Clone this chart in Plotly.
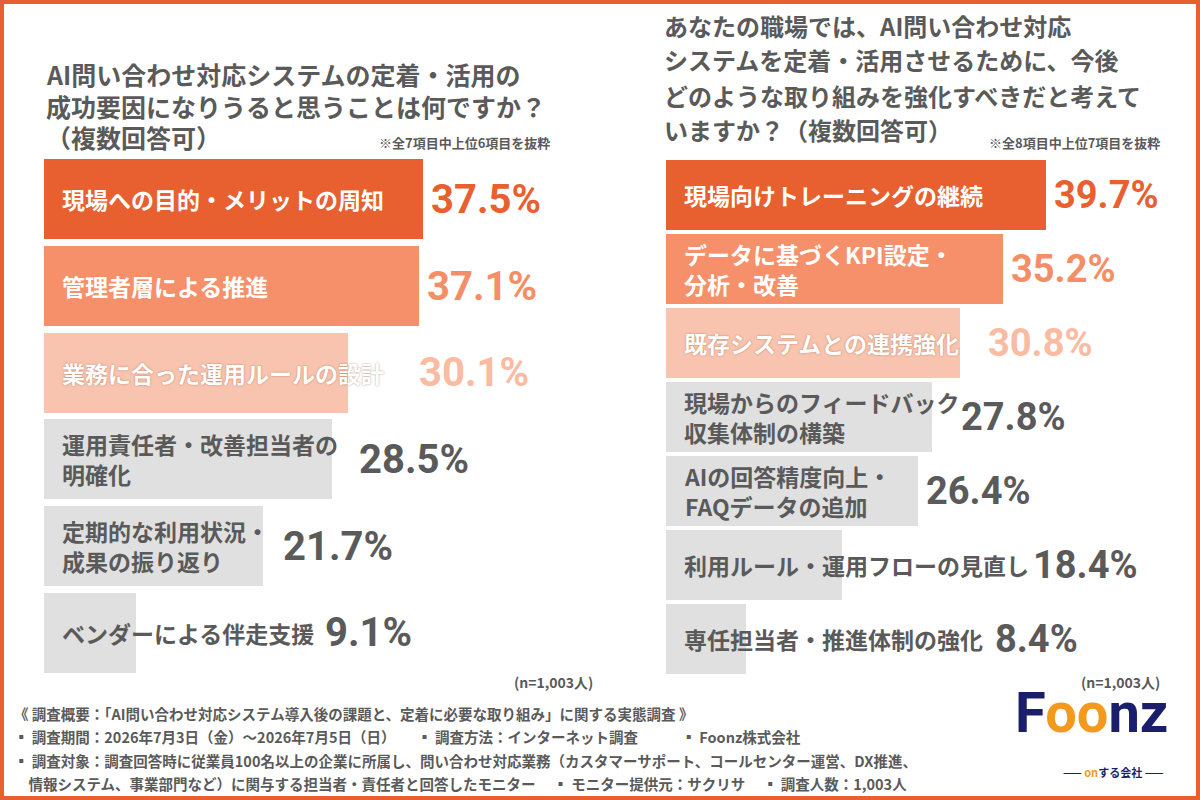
import plotly.graph_objects as go

left_labels = ["現場への目的・メリットの周知", "管理者層による推進", "業務に合った運用ルールの設計",
               "運用責任者・改善担当者の<br>明確化", "定期的な利用状況・<br>成果の振り返り", "ベンダーによる伴走支援"]
left_values = [37.5, 37.1, 30.1, 28.5, 21.7, 9.1]
right_labels = ["現場向けトレーニングの継続", "データに基づくKPI設定・<br>分析・改善", "既存システムとの連携強化",
                "現場からのフィードバック<br>収集体制の構築", "AIの回答精度向上・<br>FAQデータの追加",
                "利用ルール・運用フローの見直し", "専任担当者・推進体制の強化"]
right_values = [39.7, 35.2, 30.8, 27.8, 26.4, 18.4, 8.4]

# where the value text starts when the category label runs past the bar (axis units)
left_text_min = [0, 0, 36.3, 30.4, 22.9, 27.0]
right_text_min = [0, 0, 32.8, 30.0, 0, 37.6, 33.6]

bar_cols = ["#E8602F", "#F5906A", "#F9C4AF"]
val_cols = ["#E8602F", "#F58E66", "#F9BBA2"]
GRAY = "#E0E0E0"
DARK = "#5A5A5A"
FONT = "Noto Sans CJK JP"

W, H = 1200, 800
fig = go.Figure()

def panel(labels, values, mins, xa, ya, lab_size, val_size, bw):
    n = len(values)
    cols = [bar_cols[i] if i < 3 else GRAY for i in range(n)]
    fig.add_trace(go.Bar(x=values, y=list(range(n)), orientation="h", marker=dict(color=cols, line_width=0),
                         width=bw, xaxis=xa, yaxis=ya, showlegend=False, hoverinfo="skip"))
    for i, (l, v) in enumerate(zip(labels, values)):
        tc = "white" if i < 3 else DARK
        sh = "0px 0px 2px rgba(120,60,30,0.55)" if i == 2 else "none"
        fig.add_annotation(x=0, y=i, xref=xa, yref=ya, text=l, xanchor="left", xshift=16, showarrow=False,
                           align="left", font=dict(family=FONT, size=lab_size, color=tc, weight="bold", shadow=sh))
        fig.add_annotation(x=max(v, mins[i]), y=i, xref=xa, yref=ya, text=f"{v:.1f}%", xanchor="left", xshift=6,
                           showarrow=False,
                           font=dict(family="Roboto", size=val_size, color=val_cols[i] if i < 3 else DARK, weight="bold"))

panel(left_labels, left_values, left_text_min, "x", "y", 23, 40, 0.92)
panel(right_labels, right_values, right_text_min, "x2", "y2", 23, 38, 0.94)

fig.update_layout(
    width=W, height=H, margin=dict(l=0, r=0, t=0, b=0), paper_bgcolor="white", plot_bgcolor="white",
    xaxis=dict(domain=[44/W, 549/W], range=[0, 50], visible=False),
    yaxis=dict(domain=[1-676/H, 1-156/H], range=[5.5, -0.5], visible=False),
    xaxis2=dict(domain=[666/W, 1144/W], range=[0, 50], visible=False),
    yaxis2=dict(domain=[1-676/H, 1-158/H], range=[6.5, -0.5], visible=False),
    bargap=0,
)

def txt(x, y, s, size, color=DARK, xanchor="left", bold=True, yanchor="middle"):
    fig.add_annotation(x=x/W, y=1-y/H, xref="paper", yref="paper", text=s, showarrow=False, xanchor=xanchor,
                       yanchor=yanchor, align="left",
                       font=dict(family=FONT, size=size, color=color, weight="bold" if bold else "normal"))

txt(44, 74, "AI問い合わせ対応システムの定着・活用の", 25)
txt(44, 106, "成功要因になりうると思うことは何ですか？", 25)
txt(44, 137, "（複数回答可）", 25)
txt(552, 143, "※全7項目中上位6項目を抜粋", 13, xanchor="right")
for i, s in enumerate(["あなたの職場では、AI問い合わせ対応", "システムを定着・活用させるために、今後",
                       "どのような取り組みを強化すべきだと考えて", "いますか？（複数回答可）"]):
    txt(662, 25 + 35*i, s, 24)
txt(1162, 143, "※全8項目中上位7項目を抜粋", 13, xanchor="right")
txt(595, 682, "(n=1,003人)", 14, xanchor="right")
txt(1162, 682, "(n=1,003人)", 14, xanchor="right")

notes = ["《 調査概要：「AI問い合わせ対応システム導入後の課題と、定着に必要な取り組み」に関する実態調査 》",
         "▪ 調査期間：2026年7月3日（金）～2026年7月5日（日）　　▪ 調査方法：インターネット調査　　　▪ Foonz株式会社",
         "▪ 調査対象：調査回答時に従業員100名以上の企業に所属し、問い合わせ対応業務（カスタマーサポート、コールセンター運営、DX推進、",
         "　情報システム、事業部門など）に関与する担当者・責任者と回答したモニター　 ▪ モニター提供元：サクリサ　 ▪ 調査人数：1,003人"]
for i, s in enumerate(notes):
    txt(12, 713 + 23.5*i, s, 14.5)

fig.add_annotation(x=1170/W, y=1-748/H, xref="paper", yref="paper", showarrow=False, xanchor="right",
                   text="<span style='color:#1B1F6B'>F</span><span style='color:#F39A1E'>oo</span><span style='color:#1B1F6B'>nz</span>",
                   font=dict(family="Roboto", size=56, weight="bold"))
fig.add_annotation(x=1166/W, y=1-782/H, xref="paper", yref="paper", showarrow=False, xanchor="right",
                   text="<span style='color:#1B1F6B'>—— </span><span style='color:#F39A1E'>on</span><span style='color:#1B1F6B'>する会社 ——</span>",
                   font=dict(family=FONT, size=11, weight="bold"))

fig.add_shape(type="rect", xref="paper", yref="paper", x0=0, y0=0, x1=1, y1=1,
              line=dict(color="#E8602F", width=8), fillcolor="rgba(0,0,0,0)")

fig.write_html("out.html", config={"displayModeBar": False},
               post_script="document.body.style.margin='0';document.body.style.overflow='hidden';")
